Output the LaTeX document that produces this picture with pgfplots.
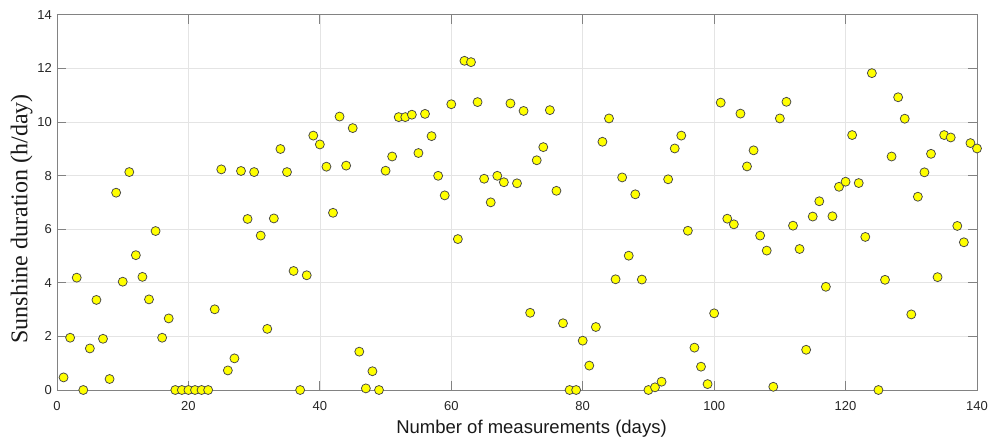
\documentclass[border=0pt]{standalone}
\usepackage{fontspec}
\setmainfont{Liberation Sans}
\newfontfamily\timesfont{Liberation Serif}
\usepackage{pgfplots}
\pgfplotsset{compat=1.18}
\definecolor{axgray}{RGB}{130,130,130}
\definecolor{gridgray}{RGB}{228,228,228}
\definecolor{txt}{RGB}{38,38,38}
\definecolor{myyellow}{RGB}{255,255,0}
\begin{document}
\begin{tikzpicture}
\begin{axis}[
  name=ax,
  at={(0,0)}, anchor=south west,
  scale only axis,
  width=920pt, height=375.3pt,
  xmin=0, xmax=140, ymin=0, ymax=14,
  xtick={0,20,...,140}, ytick={0,2,...,14},
  /pgf/number format/assume math mode=true,
  tick label style={font=\fontsize{13}{15}\selectfont, text=txt},
  xticklabel style={anchor=base, inner sep=0pt, yshift=-20.5pt},
  yticklabel style={anchor=east, inner sep=0pt, xshift=-5pt},
  tick align=inside,
  tickwidth=9pt,
  major tick length=9pt,
  xtick style={axgray, line width=0.8pt},
  ytick style={axgray, line width=0.8pt},
  axis line style={axgray, line width=0.8pt},
  xmajorgrids, ymajorgrids,
  major grid style={gridgray, line width=0.6pt},
  xlabel={Number of measurements (days)},
  ylabel={Sunshine duration (h/day)},
  xlabel style={font=\fontsize{18.5}{20}\selectfont, text=black!90, inner sep=0pt, anchor=base,
     at={([shift={(14.5pt,-43.3pt)}]axis description cs:0.5,0)}},
  ylabel style={font=\timesfont\fontsize{24}{26}\selectfont, text=black!90, inner sep=0pt, anchor=north, rotate=0,
     at={([shift={(-46.5pt,-16.6pt)}]axis description cs:0,0.5)}},
]
\addplot[only marks, mark=*, mark size=4.5pt, mark options={fill=myyellow, draw=black!72, line width=0.75pt}]
coordinates {
(1,0.47)(2,1.95)(3,4.19)(4,0)(5,1.55)(6,3.36)(7,1.91)(8,0.41)(9,7.36)(10,4.04)
(11,8.13)(12,5.03)(13,4.22)(14,3.38)(15,5.93)(16,1.95)(17,2.67)(18,0)(19,0)(20,0)
(21,0)(22,0)(23,0)(24,3.01)(25,8.23)(26,0.73)(27,1.18)(28,8.17)(29,6.38)(30,8.13)
(31,5.76)(32,2.28)(33,6.4)(34,8.99)(35,8.13)(36,4.44)(37,0)(38,4.28)(39,9.49)(40,9.16)
(41,8.33)(42,6.61)(43,10.2)(44,8.37)(45,9.77)(46,1.43)(47,0.06)(48,0.7)(49,0)(50,8.18)
(51,8.71)(52,10.18)(53,10.18)(54,10.27)(55,8.84)(56,10.3)(57,9.47)(58,7.99)(59,7.26)(60,10.66)
(61,5.63)(62,12.28)(63,12.23)(64,10.74)(65,7.88)(66,7.0)(67,7.99)(68,7.75)(69,10.69)(70,7.71)
(71,10.41)(72,2.88)(73,8.57)(74,9.06)(75,10.44)(76,7.43)(77,2.49)(78,0)(79,0)(80,1.84)
(81,0.91)(82,2.35)(83,9.26)(84,10.13)(85,4.13)(86,7.93)(87,5.01)(88,7.3)(89,4.12)(90,0)
(91,0.1)(92,0.31)(93,7.86)(94,9.01)(95,9.49)(96,5.94)(97,1.58)(98,0.87)(99,0.22)(100,2.86)
(101,10.72)(102,6.39)(103,6.18)(104,10.31)(105,8.34)(106,8.94)(107,5.76)(108,5.2)(109,0.12)(110,10.13)
(111,10.75)(112,6.13)(113,5.26)(114,1.5)(115,6.47)(116,7.04)(117,3.85)(118,6.48)(119,7.58)(120,7.77)
(121,9.51)(122,7.72)(123,5.71)(124,11.82)(125,0)(126,4.11)(127,8.71)(128,10.92)(129,10.12)(130,2.82)
(131,7.21)(132,8.12)(133,8.81)(134,4.21)(135,9.51)(136,9.42)(137,6.12)(138,5.51)(139,9.21)(140,9.01)
};
\end{axis}
\pgfresetboundingbox
\path[use as bounding box] ([shift={(-57pt,-54pt)}]ax.south west) rectangle ([shift={(15pt,14.7pt)}]ax.north east);
\end{tikzpicture}
\end{document}
